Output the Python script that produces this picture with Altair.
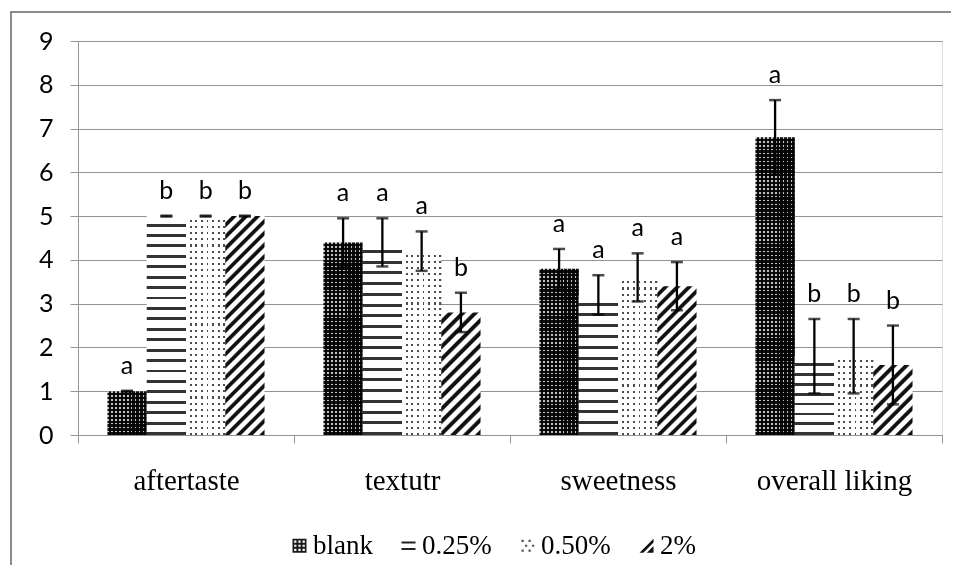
import altair as alt
import pandas as pd

# ---------------- data ----------------
categories = ["aftertaste", "textutr", "sweetness", "overall liking"]
series = ["blank", "0.25%", "0.50%", "2%"]
blank_vals = [1.0, 4.4, 3.8, 6.8]
p025_vals = [5.0, 4.4, 3.2, 1.8]
p050_vals = [5.0, 4.2, 3.6, 1.8]
p2_vals = [5.0, 2.8, 3.4, 1.6]
blank_err = [0.01, 0.55, 0.45, 0.85]
p025_err = [0.01, 0.55, 0.45, 0.85]
p050_err = [0.01, 0.45, 0.55, 0.85]
p2_err = [0.01, 0.45, 0.55, 0.9]
blank_lab = ["a", "a", "a", "a"]
p025_lab = ["b", "a", "a", "b"]
p050_lab = ["b", "a", "a", "b"]
p2_lab = ["b", "b", "a", "b"]
y_ticks = [0, 1, 2, 3, 4, 5, 6, 7, 8, 9]

vals = {"blank": blank_vals, "0.25%": p025_vals, "0.50%": p050_vals, "2%": p2_vals}
errs = {"blank": blank_err, "0.25%": p025_err, "0.50%": p050_err, "2%": p2_err}
labs = {"blank": blank_lab, "0.25%": p025_lab, "0.50%": p050_lab, "2%": p2_lab}

rows = []
for s in series:
    for i, c in enumerate(categories):
        v, e = vals[s][i], errs[s][i]
        rows.append({"category": c, "series": s, "value": v, "lo": v - e,
                     "hi": v + e, "label": labs[s][i]})
df = pd.DataFrame(rows)

# ---------------- geometry / style ----------------
W, H = 864, 394
YMAX = 9
BAR_W = (W / len(categories)) / (len(series) + 1.5)
GRID = "#939393"


def px_height(v):
    return v * H / YMAX


def stripe_stops(n, light_frac, light, dark, ramp=0.0):
    stops = []
    for i in range(n):
        a = i / n
        b = (i + light_frac) / n
        c = (i + 1) / n
        r = ramp / n
        pts = [(a + r, light), (b - r, light), (b + r, dark), (c - r, dark)]
        for o, col in pts:
            o = min(1.0, max(0.0, round(o, 6)))
            stops.append(alt.GradientStop(offset=o, color=col))
    return stops


def vgrad(n, light_frac, light, dark):  # horizontal stripes (varies along y)
    return alt.LinearGradient(gradient="linear", x1=0, y1=0, x2=0, y2=1,
                              stops=stripe_stops(n, light_frac, light, dark))


def hgrad(n, light_frac, light, dark):  # vertical stripes (varies along x)
    return alt.LinearGradient(gradient="linear", x1=0, y1=0, x2=1, y2=0,
                              stops=stripe_stops(n, light_frac, light, dark))


def dgrad(h, period, light_frac, light, dark, ramp=0.07):
    """45 degree stripes (lower-left -> upper-right) in a bar of pixel height h."""
    w = BAR_W
    r = h / w
    k = (1 + r) / (1 + r * r)
    n = max(1, round((w + h) / period))
    st = stripe_stops(n, light_frac, light, dark, ramp=ramp)
    return alt.LinearGradient(gradient="linear", x1=0, y1=0, x2=k, y2=k * r, stops=st)


x_enc = alt.X("category:N",
              scale=alt.Scale(domain=categories, paddingInner=0, paddingOuter=0),
              axis=alt.Axis(title=None, labelAngle=0, labelFont="Liberation Serif",
                            labelFontSize=29, labelColor="black", labelPadding=23,
                            tickSize=8, tickColor=GRID, tickBand="extent",
                            domainColor=GRID, grid=False))
xo_enc = alt.XOffset("series:N",
                     scale=alt.Scale(domain=series, paddingInner=0, paddingOuter=0.75))


def y_enc(field):
    return alt.Y(f"{field}:Q",
                 scale=alt.Scale(domain=[0, YMAX], nice=False, zero=True),
                 stack=None,
                 axis=alt.Axis(title=None, values=y_ticks, grid=True, gridColor=GRID,
                               gridWidth=1.2, tickSize=8, tickColor=GRID,
                               domainColor=GRID, labelFont="Lato", labelFontSize=25,
                               labelColor="black", labelPadding=17))


base = alt.Chart(df)
layers = []


def bar_layer(flt, fill, blend=None):
    kw = {"fill": fill, "strokeWidth": 0}
    if blend:
        kw["blend"] = blend
    return base.transform_filter(flt).mark_bar(**kw).encode(
        x=x_enc, xOffset=xo_enc, y=y_enc("value"))


def one(c, s):
    return f"datum.category === '{c}' && datum.series === '{s}'"


# blank: black with small light dots (two stripe layers multiplied)
for i, c in enumerate(categories):
    h = px_height(blank_vals[i])
    layers.append(bar_layer(one(c, "blank"),
                            vgrad(max(1, round(h / 3.9)), 0.36, "#dcdcdc", "#111111")))
layers.append(bar_layer("datum.series === 'blank'",
                        hgrad(max(1, round(BAR_W / 3.9)), 0.36, "#dcdcdc", "#111111"),
                        blend="multiply"))

# 0.25%: horizontal stripes
for i, c in enumerate(categories):
    h = px_height(p025_vals[i])
    layers.append(bar_layer(one(c, "0.25%"),
                            vgrad(max(1, round(h / 10.5)), 0.72, "#ffffff", "#333333")))

# 0.50%: white with grey dots (two stripe layers screened)
for i, c in enumerate(categories):
    h = px_height(p050_vals[i])
    layers.append(bar_layer(one(c, "0.50%"),
                            vgrad(max(1, round(h / 6.0)), 0.66, "#ffffff", "#2a2a2a")))
layers.append(bar_layer("datum.series === '0.50%'",
                        hgrad(max(1, round(BAR_W / 6.0)), 0.66, "#ffffff", "#2a2a2a"),
                        blend="screen"))

# 2%: diagonal stripes
for i, c in enumerate(categories):
    h = px_height(p2_vals[i])
    layers.append(bar_layer(one(c, "2%"),
                            dgrad(h, 12, 0.55, "#ffffff", "#111111")))

# error bars
layers.append(base.mark_rule(color="black", strokeWidth=2.3).encode(
    x=x_enc, xOffset=xo_enc, y=y_enc("lo"), y2="hi:Q"))
layers.append(base.mark_tick(color="black", thickness=2.5, size=12).encode(
    x=x_enc, xOffset=xo_enc, y=y_enc("lo")))
layers.append(base.mark_tick(color="black", thickness=2.5, size=12).encode(
    x=x_enc, xOffset=xo_enc, y=y_enc("hi")))

# significance letters
layers.append(base.mark_text(font="Lato", fontSize=25, baseline="alphabetic",
                             dy=-17, color="black").encode(
    x=x_enc, xOffset=xo_enc, y=y_enc("hi"), text="label:N"))

# legend (symbols only)
holes = ""
for cy in (-0.6, 0.0, 0.6):
    for cx in (-0.6, 0.0, 0.6):
        holes += (f"M{cx-0.16:.2f},{cy-0.16:.2f}V{cy+0.16:.2f}"
                  f"H{cx+0.16:.2f}V{cy-0.16:.2f}Z")
sym_blank = "M-1,-1H1V1H-1Z" + holes
sym_025 = "M-1,-0.62H1V-0.32H-1Z M-1,0.32H1V0.62H-1Z"
dots = ""
for cy, xs in ((-0.7, (-0.7, 0.3)), (0.0, (-0.2, 0.8)), (0.7, (-0.7, 0.3))):
    for cx in xs:
        dots += (f"M{cx-0.16:.2f},{cy-0.16:.2f}H{cx+0.16:.2f}"
                 f"V{cy+0.16:.2f}H{cx-0.16:.2f}Z")
sym_050 = dots
sym_2 = "M1,-1L1,-0.45L-0.45,1L-1,1Z M1,0.05L1,1L0.05,1Z"

leg = alt.Legend(title=None, orient="none", legendX=208, legendY=491,
                 direction="horizontal", symbolSize=196, symbolStrokeWidth=0,
                 symbolOpacity=1, labelFont="Liberation Serif", labelFontSize=27,
                 labelColor="black", labelOffset=0, columnPadding=22, padding=0)
layers.append(base.transform_filter("false").mark_point(filled=True, opacity=1).encode(
    x=x_enc, xOffset=xo_enc, y=y_enc("value"),
    color=alt.Color("series:N", scale=alt.Scale(domain=series,
                    range=["#1a1a1a", "#222222", "#555555", "#111111"]), legend=leg),
    shape=alt.Shape("series:N", scale=alt.Scale(domain=series,
                    range=[sym_blank, sym_025, sym_050, sym_2]), legend=leg)))

# outer chart frame (top and left edges visible)
frame = alt.Chart(pd.DataFrame({"k": [0]}))
layers.append(frame.mark_rule(color="#8c8c8c", strokeWidth=2).encode(
    x=alt.value(-67), x2=alt.value(873), y=alt.value(-29)))
layers.append(frame.mark_rule(color="#8c8c8c", strokeWidth=2).encode(
    x=alt.value(-67), y=alt.value(-30), y2=alt.value(524)))

chart = alt.layer(*layers).properties(
    width=W, height=H,
    autosize=alt.AutoSizeParams(type="none"),
    padding={"left": 70, "top": 33, "right": 9, "bottom": 130},
).configure_view(stroke=None).configure(background="white")

chart.save("out.html", embed_options={"renderer": "svg", "actions": False})
